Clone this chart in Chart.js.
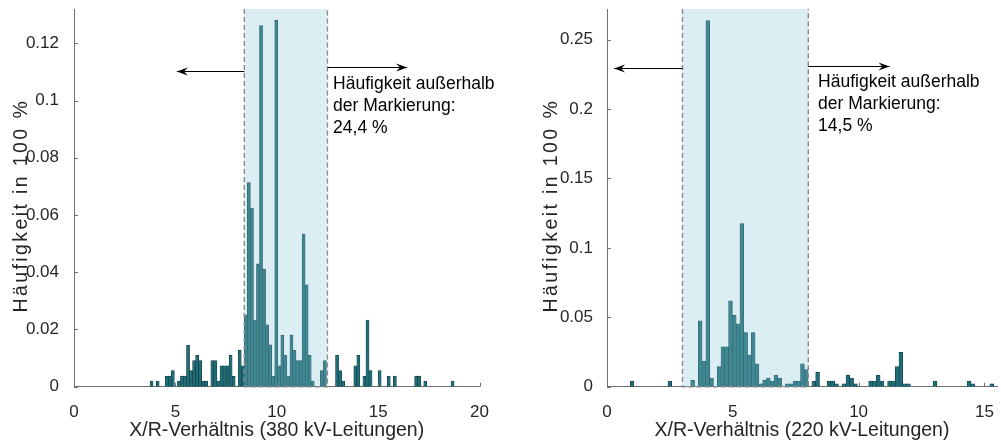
<!DOCTYPE html>
<html>
<head>
<meta charset="utf-8">
<script src="https://cdn.jsdelivr.net/npm/chart.js@4.4.1/dist/chart.umd.min.js"></script>
<style>
  html, body { margin: 0; padding: 0; background: #fff; }
  #wrap { position: relative; width: 1001px; height: 441px; overflow: hidden; }
  canvas { position: absolute; top: 0; }
  #c380 { left: 0; }
  #c220 { left: 500px; }
</style>
</head>
<body>
<div id="wrap">
  <canvas id="c380" width="500" height="441"></canvas>
  <canvas id="c220" width="501" height="441"></canvas>
</div>
<script>
// ---- 380 kV lines: relative frequency per X/R bin (bins of equal width) ----
const binStart380 = 3.75;
const binWidth380 = 0.15;
const freq380 = [
  0.0020, 0, 0.0020, 0, 0, 0.0037, 0.0037, 0.0056, 0, 0.0020,
  0.0037, 0.0037, 0.0145, 0.0056, 0.0091, 0.0110, 0.0091, 0.0020, 0.0020, 0,
  0.0091, 0.0091, 0.0020, 0.0073, 0.0073, 0.0073, 0.0110, 0.0037, 0, 0.0127,
  0.0073, 0.0251, 0.0713, 0.0624, 0.0233, 0.0429, 0.1262, 0.0410, 0.0216, 0.0146,
  0.0037, 0.1280, 0.0073, 0.0180, 0.0110, 0.0037, 0.0180, 0.0127, 0.0091, 0.0091,
  0.0534, 0.0356, 0.0110, 0.0020, 0, 0, 0.0056, 0.0091, 0, 0,
  0, 0.0110, 0.0056, 0.0020, 0, 0, 0, 0.0073, 0.0110, 0,
  0.0037, 0.0233, 0.0056, 0, 0, 0.0056, 0, 0, 0.0037, 0,
  0.0037, 0, 0, 0, 0, 0, 0, 0.0037, 0.0037, 0,
  0.0020, 0, 0, 0, 0, 0, 0, 0, 0, 0.0020
];
const xTicks380 = [0, 5, 10, 15, 20];
const yTicks380 = [0, 0.02, 0.04, 0.06, 0.08, 0.1, 0.12];
const yTickLabels380 = ['0', '0.02', '0.04', '0.06', '0.08', '0.1', '0.12'];
const markRange380 = [8.4, 12.5];
const outsideShare380 = '24,4 %';

// ---- 220 kV lines ----
const binStart220 = 0.92;
const binWidth220 = 0.1505;
const freq220 = [
  0.0041, 0, 0, 0, 0, 0, 0, 0, 0, 0,
  0.0041, 0, 0, 0, 0, 0, 0.0045, 0, 0.0474, 0.0185,
  0.2636, 0.0062, 0, 0.0144, 0.0288, 0.0288, 0.0618, 0.0515, 0.0453, 0.1174,
  0.0390, 0.0227, 0.0390, 0.0165, 0.0021, 0.0048, 0.0062, 0.0041, 0.0082, 0.0062,
  0, 0.0021, 0.0021, 0.0041, 0.0041, 0.0165, 0.0124, 0, 0.0041, 0.0103,
  0, 0, 0.0041, 0.0041, 0.0021, 0, 0.0021, 0.0082, 0.0062, 0.0021,
  0, 0, 0, 0.0041, 0.0041, 0.0082, 0.0041, 0, 0.0041, 0.0041,
  0.0144, 0.0247, 0.0021, 0.0021, 0, 0, 0, 0, 0, 0,
  0.0041, 0, 0, 0, 0, 0, 0, 0, 0, 0.0041,
  0.0021, 0, 0, 0, 0, 0.0021
];
const xTicks220 = [0, 5, 10, 15];
const yTicks220 = [0, 0.05, 0.1, 0.15, 0.2, 0.25];
const yTickLabels220 = ['0', '0.05', '0.1', '0.15', '0.2', '0.25'];
const markRange220 = [3, 8];
const outsideShare220 = '14,5 %';

const noteLines = ['Häufigkeit außerhalb', 'der Markierung:'];
const yTitle = 'Häufigkeit in 100 %';

const FONT = '"Liberation Sans", Arial, sans-serif';
const TEXT = '#262626';
const AXIS = '#6f6f6f';

// Shaded band, dashed borders, arrows, note text, inward tick marks and
// the rotated y-axis title (drawn glyph by glyph with open spacing)
function markupPlugin(cfg) {
  function arrow(ctx, x1, y, x2) {
    ctx.beginPath();
    ctx.moveTo(x1, y);
    ctx.lineTo(x2, y);
    ctx.stroke();
    const dir = Math.sign(x2 - x1);
    const L = 11, W = 4;
    ctx.beginPath();
    ctx.moveTo(x2, y);
    ctx.lineTo(x2 - dir * L, y - W);
    ctx.lineTo(x2 - dir * L * 0.65, y);
    ctx.lineTo(x2 - dir * L, y + W);
    ctx.closePath();
    ctx.fill();
  }
  return {
    id: 'markup',
    afterDatasetsDraw(chart) {
      const { ctx, chartArea: a, scales: { x } } = chart;
      const xl = x.getPixelForValue(cfg.range[0]);
      const xr = x.getPixelForValue(cfg.range[1]);
      ctx.save();
      ctx.fillStyle = 'rgba(135,198,215,0.3)';
      ctx.fillRect(xl, a.top, xr - xl, a.bottom - a.top);
      ctx.strokeStyle = '#888888';
      ctx.lineWidth = 1.4;
      ctx.setLineDash([5, 3]);
      ctx.beginPath();
      ctx.moveTo(xl, a.top);
      ctx.lineTo(xl, a.bottom);
      ctx.lineTo(xr, a.bottom);
      ctx.lineTo(xr, a.top);
      ctx.stroke();
      ctx.restore();
    },
    afterDraw(chart) {
      const { ctx, chartArea: a, scales: { x, y } } = chart;
      ctx.save();
      // inward tick marks
      ctx.strokeStyle = AXIS;
      ctx.lineWidth = 1;
      ctx.beginPath();
      cfg.yTicks.forEach(v => {
        const py = Math.round(y.getPixelForValue(v)) + 0.5;
        ctx.moveTo(a.left, py);
        ctx.lineTo(a.left + 4, py);
      });
      cfg.xTicks.forEach(v => {
        const px = Math.round(x.getPixelForValue(v)) + 0.5;
        ctx.moveTo(px, a.bottom);
        ctx.lineTo(px, a.bottom - 4);
      });
      ctx.stroke();
      // arrows
      ctx.strokeStyle = '#000';
      ctx.fillStyle = '#000';
      ctx.lineWidth = 1;
      cfg.arrows.forEach(ar => {
        arrow(ctx, x.getPixelForValue(ar.from), Math.round(y.getPixelForValue(ar.y)) + 0.5, x.getPixelForValue(ar.to));
      });
      // note
      ctx.font = '17.5px ' + FONT;
      ctx.textAlign = 'left';
      ctx.textBaseline = 'alphabetic';
      const tx = x.getPixelForValue(cfg.note.x);
      const ty = y.getPixelForValue(cfg.note.y);
      cfg.note.lines.forEach((t, i) => ctx.fillText(t, tx, ty + i * 21.7));
      ctx.restore();

      // y-axis title
      ctx.save();
      ctx.translate(cfg.yTitleX, (a.top + a.bottom) / 2 + 9);
      ctx.rotate(-Math.PI / 2);
      ctx.font = '19.5px ' + FONT;
      ctx.fillStyle = TEXT;
      ctx.textAlign = 'left';
      ctx.textBaseline = 'middle';
      const chars = Array.from(yTitle);
      const widths = chars.map(c => ctx.measureText(c).width);
      const gap = 2.4;
      const total = widths.reduce((s, w) => s + w, 0) + gap * (chars.length - 1);
      let p = -total / 2;
      chars.forEach((c, i) => { ctx.fillText(c, p, 0); p += widths[i] + gap; });
      ctx.restore();
    }
  };
}

function buildChart(id, s) {
  const bins = s.freq.map((v, i) => ({ x: s.start + (i + 0.5) * s.width, y: v }));
  return new Chart(document.getElementById(id), {
    type: 'bar',
    data: {
      datasets: [{
        data: bins,
        backgroundColor: '#1f6e78',
        borderColor: '#12353a',
        borderWidth: 0.6,
        barPercentage: 1,
        categoryPercentage: 1
      }]
    },
    options: {
      responsive: false,
      animation: false,
      devicePixelRatio: 1,
      layout: { padding: { top: 9, right: s.padRight, left: 0, bottom: 0 } },
      plugins: { legend: { display: false }, tooltip: { enabled: false } },
      scales: {
        x: {
          type: 'linear',
          min: 0,
          max: s.xMax,
          offset: false,
          grid: { display: false },
          border: { display: true, color: AXIS, width: 1 },
          ticks: {
            color: TEXT, font: { family: FONT, size: 17 }, padding: 7,
            maxRotation: 0, autoSkip: false,
            callback: v => String(v)
          },
          afterBuildTicks: sc => { sc.ticks = s.xTicks.map(v => ({ value: v })); },
          afterFit: sc => { sc.height = 54.3; sc.paddingLeft = 0; sc.paddingRight = 0; },
          title: {
            display: true, text: s.xTitle, color: TEXT,
            font: { family: FONT, size: 19.5 }, padding: { top: 0, bottom: -1 }
          }
        },
        y: {
          min: 0,
          max: s.yMax,
          grid: { display: false },
          border: { display: true, color: AXIS, width: 1 },
          ticks: {
            color: TEXT, font: { family: FONT, size: 17 }, padding: s.yTickPad,
            callback: (v, i) => s.yLabels[i]
          },
          afterBuildTicks: sc => { sc.ticks = s.yTicks.map(v => ({ value: v })); },
          afterFit: sc => { sc.width = s.yAxisWidth; sc.paddingTop = 0; sc.paddingBottom = 0; },
          title: { display: false }
        }
      }
    },
    plugins: [markupPlugin({
      range: s.range,
      xTicks: s.xTicks,
      yTicks: s.yTicks,
      arrows: s.arrows,
      note: s.note,
      yTitleX: s.yTitleX
    })]
  });
}

buildChart('c380', {
  freq: freq380, start: binStart380, width: binWidth380,
  xMax: 20, yMax: 0.132,
  xTicks: xTicks380, yTicks: yTicks380, yLabels: yTickLabels380,
  xTitle: 'X/R-Verhältnis (380 kV-Leitungen)',
  padRight: 20.5, yAxisWidth: 74, yTickPad: 7, yTitleX: 22,
  range: markRange380,
  arrows: [
    { from: markRange380[0], to: 5.07, y: 0.1104 },
    { from: markRange380[1], to: 16.43, y: 0.1116 }
  ],
  note: { x: 12.78, y: 0.1039, lines: [...noteLines, outsideShare380] }
});

buildChart('c220', {
  freq: freq220, start: binStart220, width: binWidth220,
  xMax: 15.5, yMax: 0.272,
  xTicks: xTicks220, yTicks: yTicks220, yLabels: yTickLabels220,
  xTitle: 'X/R-Verhältnis (220 kV-Leitungen)',
  padRight: 4, yAxisWidth: 107, yTickPad: 6, yTitleX: 52,
  range: markRange220,
  arrows: [
    { from: markRange220[0], to: 0.28, y: 0.2293 },
    { from: markRange220[1], to: 11.23, y: 0.2307 }
  ],
  note: { x: 8.39, y: 0.2156, lines: [...noteLines, outsideShare220] }
});
</script>
</body>
</html>
